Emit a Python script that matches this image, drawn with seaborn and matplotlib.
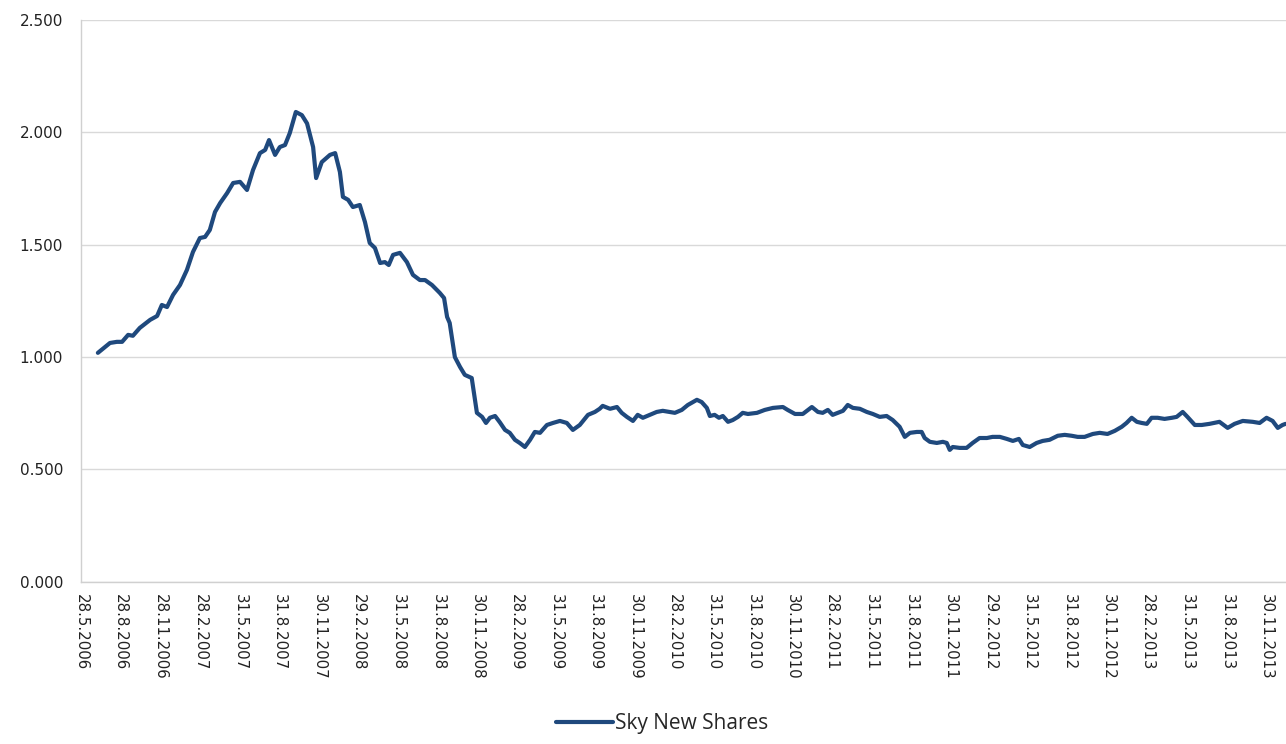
import numpy as np
import pandas as pd
import matplotlib
matplotlib.use("Agg")
import matplotlib.pyplot as plt
import matplotlib.dates as mdates
import seaborn as sns

# ---- data ----
start_date = "2006-05-28"
day_offsets = [
    39, 67, 83, 95, 109, 120, 136, 160, 176, 187, 199, 213, 229, 245, 259, 275, 287, 298,
    310, 322, 338, 352, 368, 384, 398, 414, 426, 435, 449, 460, 472, 483, 497, 511, 523,
    537, 544, 557, 576, 588, 599, 606, 618, 629, 645, 657, 668, 680, 692, 703, 712, 722,
    738, 754, 768, 784, 796, 812, 830, 840, 847, 853, 865, 877, 888, 904, 916, 928, 937,
    946, 958, 969, 981, 992, 1004, 1015, 1027, 1039, 1050, 1062, 1078, 1092, 1108, 1124,
    1138, 1154, 1173, 1189, 1200, 1207, 1224, 1240, 1251, 1263, 1277, 1288, 1300, 1316,
    1332, 1346, 1362, 1374, 1390, 1404, 1425, 1436, 1448, 1455, 1466, 1476, 1485, 1497,
    1508, 1520, 1531, 1543, 1564, 1582, 1601, 1624, 1635, 1652, 1670, 1691, 1705, 1716,
    1728, 1739, 1751, 1763, 1774, 1786, 1802, 1818, 1832, 1848, 1864, 1878, 1894, 1906,
    1918, 1934, 1945, 1952, 1964, 1980, 1994, 2003, 2010, 2017, 2033, 2049, 2063, 2079,
    2096, 2109, 2126, 2142, 2156, 2170, 2179, 2195, 2211, 2225, 2241, 2260, 2276, 2292,
    2306, 2322, 2341, 2357, 2375, 2392, 2408, 2419, 2431, 2443, 2454, 2466, 2477, 2491,
    2507, 2524, 2535, 2549, 2560, 2577, 2593, 2611, 2634, 2653, 2669, 2688, 2711, 2727,
    2743, 2757, 2769, 2780, 2787,
]
share_values = [
    1.019, 1.063, 1.068, 1.068, 1.099, 1.095, 1.130, 1.166, 1.183, 1.232, 1.223, 1.277,
    1.321, 1.388, 1.468, 1.530, 1.535, 1.566, 1.646, 1.686, 1.730, 1.775, 1.780, 1.744,
    1.833, 1.908, 1.922, 1.966, 1.900, 1.935, 1.944, 1.997, 2.091, 2.077, 2.040, 1.935,
    1.797, 1.868, 1.900, 1.908, 1.824, 1.713, 1.700, 1.668, 1.677, 1.601, 1.508, 1.486,
    1.419, 1.423, 1.410, 1.455, 1.464, 1.423, 1.366, 1.343, 1.343, 1.321, 1.286, 1.263,
    1.179, 1.152, 1.000, 0.956, 0.921, 0.907, 0.752, 0.734, 0.707, 0.730, 0.738, 0.710,
    0.676, 0.663, 0.632, 0.618, 0.600, 0.632, 0.667, 0.663, 0.698, 0.707, 0.716, 0.707,
    0.676, 0.698, 0.743, 0.756, 0.770, 0.783, 0.770, 0.778, 0.752, 0.734, 0.716, 0.743,
    0.730, 0.743, 0.756, 0.761, 0.756, 0.752, 0.765, 0.787, 0.810, 0.800, 0.774, 0.738,
    0.743, 0.730, 0.738, 0.712, 0.720, 0.734, 0.752, 0.747, 0.752, 0.765, 0.774, 0.778,
    0.765, 0.747, 0.747, 0.778, 0.756, 0.752, 0.765, 0.743, 0.752, 0.761, 0.787, 0.774,
    0.770, 0.756, 0.747, 0.734, 0.738, 0.720, 0.690, 0.645, 0.663, 0.667, 0.667, 0.640,
    0.623, 0.618, 0.623, 0.618, 0.587, 0.600, 0.596, 0.596, 0.618, 0.640, 0.640, 0.645,
    0.645, 0.636, 0.627, 0.636, 0.609, 0.600, 0.618, 0.627, 0.632, 0.650, 0.654, 0.650,
    0.645, 0.645, 0.658, 0.663, 0.658, 0.672, 0.690, 0.707, 0.730, 0.712, 0.707, 0.703,
    0.730, 0.730, 0.725, 0.730, 0.734, 0.756, 0.734, 0.698, 0.698, 0.703, 0.712, 0.685,
    0.703, 0.716, 0.712, 0.707, 0.730, 0.716, 0.685, 0.698, 0.703,
]
tick_dates = [
    "2006-05-28", "2006-08-28", "2006-11-28", "2007-02-28", "2007-05-31", "2007-08-31",
    "2007-11-30", "2008-02-29", "2008-05-31", "2008-08-31", "2008-11-30", "2009-02-28",
    "2009-05-31", "2009-08-31", "2009-11-30", "2010-02-28", "2010-05-31", "2010-08-31",
    "2010-11-30", "2011-02-28", "2011-05-31", "2011-08-31", "2011-11-30", "2012-02-29",
    "2012-05-31", "2012-08-31", "2012-11-30", "2013-02-28", "2013-05-31", "2013-08-31",
    "2013-11-30",
]
y_ticks = [0.0, 0.5, 1.0, 1.5, 2.0, 2.5]
series_name = "Sky New Shares"

# ---- build frame ----
t0 = pd.Timestamp(start_date)
df = pd.DataFrame({
    "date": t0 + pd.to_timedelta(day_offsets, unit="D"),
    "value": share_values,
})
ticks = pd.to_datetime(tick_dates)
tick_labels = [f"{d.day}.{d.month}.{d.year}" for d in ticks]

sns.set_style("white")
plt.rcParams["font.family"] = ["DejaVu Sans"]

fig = plt.figure(figsize=(12.86, 7.44), dpi=100)
ax = fig.add_axes([0.063, 0.218, 0.937, 0.755])

line_color = "#1F497D"
sns.lineplot(data=df, x="date", y="value", ax=ax, color=line_color,
             linewidth=3.0, label=series_name, legend=False)

ax.set_xlim(t0, t0 + pd.Timedelta(days=2788))
ax.set_ylim(0, 2.5)
ax.set_yticks(y_ticks)
ax.set_yticklabels([f"{v:.3f}" for v in y_ticks], fontsize=11, color="#222222")
ax.set_xticks(ticks)
ax.set_xticklabels(tick_labels, rotation=-90, fontsize=10.8, color="#222222",
                   ha="center", va="top")
ax.set_xlabel("")
ax.set_ylabel("")

ax.grid(axis="y", color="#d9d9d9", linewidth=1.0)
ax.grid(axis="x", visible=False)
for s in ["top", "right"]:
    ax.spines[s].set_visible(False)
for s in ["left", "bottom"]:
    ax.spines[s].set_color("#d0d0d0")
    ax.spines[s].set_linewidth(1.0)
ax.tick_params(axis="both", which="major", length=5, width=1, color="#d0d0d0",
               direction="out", pad=4)
ax.tick_params(axis="y", pad=8)

handles, labels = ax.get_legend_handles_labels()
fig.legend(handles, labels, loc="lower center", bbox_to_anchor=(0.515, -0.012),
           frameon=False, prop={"family": "Open Sans", "size": 15},
           handlelength=2.7, handletextpad=0.1)

fig.savefig("out.png", dpi=100)
